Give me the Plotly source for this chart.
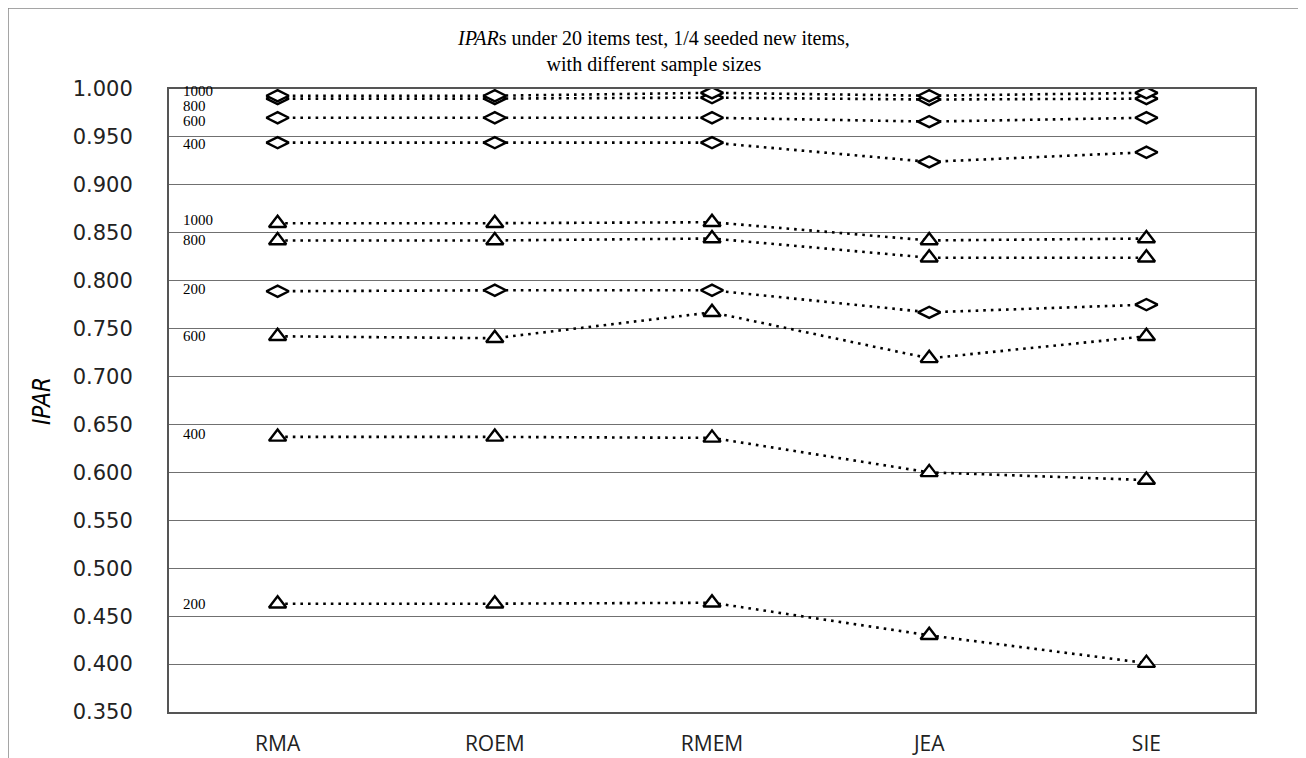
import plotly.graph_objects as go

methods = ["RMA", "ROEM", "RMEM", "JEA", "SIE"]
sizes = ["200", "400", "600", "800", "1000"]

# Diamond series
diamond_200 = [0.789, 0.790, 0.790, 0.767, 0.775]
diamond_400 = [0.944, 0.944, 0.944, 0.924, 0.934]
diamond_600 = [0.970, 0.970, 0.970, 0.966, 0.970]
diamond_800 = [0.990, 0.990, 0.991, 0.989, 0.990]
diamond_1000 = [0.993, 0.993, 0.996, 0.993, 0.996]

# Triangle series
triangle_200 = [0.463, 0.463, 0.464, 0.430, 0.401]
triangle_400 = [0.637, 0.637, 0.636, 0.600, 0.592]
triangle_600 = [0.742, 0.740, 0.767, 0.719, 0.742]
triangle_800 = [0.842, 0.842, 0.844, 0.824, 0.824]
triangle_1000 = [0.860, 0.860, 0.861, 0.842, 0.844]

y_ticks = [0.35, 0.40, 0.45, 0.50, 0.55, 0.60, 0.65, 0.70, 0.75, 0.80, 0.85, 0.90, 0.95, 1.00]

title_text = "<i>IPAR</i>s under 20 items test, 1/4 seeded new items,<br>with different sample sizes"
y_title = "IPAR"

diamonds = [diamond_200, diamond_400, diamond_600, diamond_800, diamond_1000]
triangles = [triangle_200, triangle_400, triangle_600, triangle_800, triangle_1000]

# label vertical nudges (pixels) to avoid overlap, keyed by (kind, size)
label_shift = {
    ("d", "1000"): 5, ("d", "800"): -7, ("d", "600"): -3, ("d", "400"): -1, ("d", "200"): 2,
    ("t", "1000"): 3, ("t", "800"): 0, ("t", "600"): 0, ("t", "400"): 3, ("t", "200"): 0,
}

# The page body has an 8px margin; the figure is sized/offset accordingly.
W, H = 1298, 750
ML, MR, MT, MB = 161, 51, 81, 46
plot_w, plot_h = W - ML - MR, H - MT - MB


def px_to_paper_x(px):
    return (px - ML) / plot_w


def px_to_paper_y(py):
    return (H - MB - py) / plot_h


fig = go.Figure()
line_style = dict(color="black", width=2.6, dash="2.6px,5px")

for kind, group, sym, msize in [("t", triangles, "triangle-up", 15), ("d", diamonds, "diamond-wide", 16)]:
    for sz, vals in zip(sizes, group):
        fig.add_trace(go.Scatter(
            x=methods, y=vals, mode="lines+markers", name=f"{kind}{sz}",
            line=line_style,
            marker=dict(symbol=sym, size=msize, color="white",
                        line=dict(color="black", width=2.4)),
            showlegend=False, hoverinfo="x+y",
        ))

for kind, group in [("d", diamonds), ("t", triangles)]:
    for sz, vals in zip(sizes, group):
        fig.add_annotation(
            x=methods[0], y=vals[0], xref="x", yref="y", text=sz,
            showarrow=False, xanchor="left", yanchor="middle",
            xshift=-97, yshift=label_shift[(kind, sz)],
            font=dict(family="Liberation Serif", size=15, color="black"),
        )

fig.add_annotation(x=px_to_paper_x(645), y=px_to_paper_y(43), xref="paper", yref="paper",
                   text=title_text, showarrow=False, xanchor="center", yanchor="middle",
                   align="center",
                   font=dict(family="Liberation Serif", size=20, color="black"))

# y-axis title
fig.add_annotation(x=px_to_paper_x(34), y=px_to_paper_y(393), xref="paper", yref="paper",
                   text=y_title, textangle=-90, showarrow=False,
                   xanchor="center", yanchor="middle",
                   font=dict(family="DejaVu Sans Condensed", size=24, color="black", style="italic"))

fig.update_layout(
    width=W, height=H,
    margin=dict(l=ML, r=MR, t=MT, b=MB),
    paper_bgcolor="white", plot_bgcolor="white",
)

fig.update_xaxes(
    type="category", range=[-0.5, 4.5], automargin=False,
    showgrid=False, showline=True, linecolor="#555", linewidth=2, mirror=True,
    ticks="", ticklabelstandoff=12,
    tickfont=dict(family="Open Sans", size=21, color="#222"),
)
fig.update_yaxes(
    range=[0.35, 1.0], tickvals=y_ticks, tickformat=".3f", automargin=False,
    showgrid=True, gridcolor="#707070", gridwidth=1.3,
    showline=True, linecolor="#555", linewidth=2, mirror=True,
    ticks="", ticklabelstandoff=30, zeroline=False,
    tickfont=dict(family="DejaVu Sans", size=21, color="#222"),
)

# outer frame
fig.add_shape(type="rect", xref="paper", yref="paper",
              x0=px_to_paper_x(0), x1=px_to_paper_x(1297),
              y0=px_to_paper_y(770), y1=px_to_paper_y(0),
              line=dict(color="#888", width=1.5), fillcolor="rgba(0,0,0,0)", layer="below")

fig.write_html("out.html")
